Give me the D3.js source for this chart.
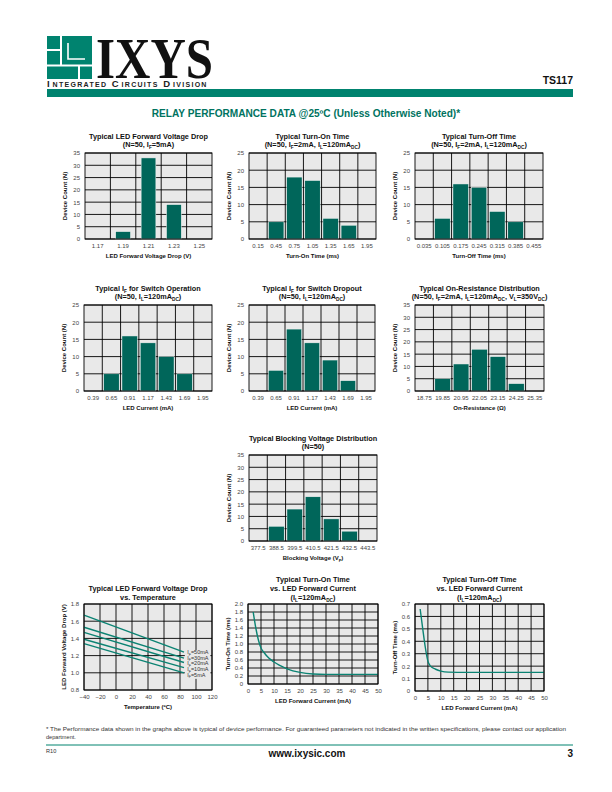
<!DOCTYPE html>
<html><head><meta charset="utf-8">
<script src="https://cdn.jsdelivr.net/npm/d3@7"></script>
<style>
html,body{margin:0;padding:0;background:#fff;}
svg{display:block;font-family:"Liberation Sans",Arial,Helvetica,sans-serif;}
</style></head><body>
<svg id="page" width="612" height="792"></svg>
<script>
// ---------- data ----------
const fwdCats = ["1.17","1.19","1.21","1.23","1.25"];
const fwdCounts = [0,3,33,14,0];
const tonCats = ["0.15","0.45","0.75","1.05","1.35","1.65","1.95"];
const tonCounts = [0,5,18,17,6,4,0];
const toffCats = ["0.035","0.105","0.175","0.245","0.315","0.385","0.455"];
const toffCounts = [0,6,16,15,8,5,0];
const ifCats = ["0.39","0.65","0.91","1.17","1.43","1.69","1.95"];
const ifOpCounts = [0,5,16,14,10,5,0];
const ifDropCounts = [0,6,18,14,9,3,0];
const ronCats = ["18.75","19.85","20.95","22.05","23.15","24.25","25.35"];
const ronCounts = [0,5,11,17,14,3,0];
const bvCats = ["377.5","388.5","399.5","410.5","421.5","432.5","443.5"];
const bvCounts = [0,6,13,18,9,4,0];

const tempC = [-40, 85];
const vfSeriesNames = ["50mA","30mA","20mA","10mA","5mA"];
const vf50 = [1.67, 1.24];
const vf30 = [1.53, 1.17];
const vf20 = [1.47, 1.12];
const vf10 = [1.39, 1.06];
const vf5  = [1.34, 1.00];

const tonIf = [2, 3, 4, 5, 6, 8, 10, 12, 15, 20, 25, 30, 40, 50];
const tonMs = [1.8, 1.4, 1.1, 0.9, 0.8, 0.65, 0.55, 0.47, 0.38, 0.29, 0.25, 0.24, 0.24, 0.24];
const toffIf = [2, 3, 4, 5, 6, 8, 10, 13, 20, 30, 50];
const toffMs = [0.66, 0.5, 0.35, 0.24, 0.2, 0.175, 0.16, 0.152, 0.15, 0.15, 0.15];

// ---------- styling ----------
const TEAL = "#00836f", BAR = "#00665a", LINE = "#0b8373", BG = "#e9e9e9", TICK = "#444";
const svg = d3.select("#page");

function rich(parent, x, y, segs, o = {}) {
  const fs = o.size || 7;
  const t = parent.append("text").attr("x", x).attr("y", y)
    .attr("text-anchor", o.anchor || "middle")
    .attr("font-size", fs).attr("font-weight", o.weight || "bold")
    .attr("fill", o.fill || "#111");
  if (o.transform) t.attr("transform", o.transform);
  let shifted = false;
  segs.forEach(s => {
    const isSub = typeof s !== "string";
    const ts = t.append("tspan").text(isSub ? s.sub : s);
    if (isSub) {
      ts.attr("font-size", fs * 0.65);
      if (!shifted) { ts.attr("dy", fs * 0.3); shifted = true; }
    } else if (shifted) { ts.attr("dy", -fs * 0.3); shifted = false; }
  });
  return t;
}

function styleAxis(g) {
  g.select(".domain").remove();
  g.selectAll("text").attr("font-size", 6).attr("fill", TICK)
    .attr("font-family", "Liberation Sans, Arial, sans-serif");
}

function frame(g, x0, x1, y0, y1) {
  g.append("rect").attr("x", x0).attr("y", y0).attr("width", x1 - x0).attr("height", y1 - y0)
    .attr("fill", "none").attr("stroke", "#000").attr("stroke-width", 0.9);
}

const TS = 7.3;

function histogram(c) {
  const g = svg.append("g");
  const x = d3.scaleBand().domain(c.cats).range([c.x0, c.x1]).padding(0);
  const y = d3.scaleLinear().domain([0, c.ymax]).range([c.y1, c.y0]);
  g.append("rect").attr("x", c.x0).attr("y", c.y0).attr("width", c.x1 - c.x0)
    .attr("height", c.y1 - c.y0).attr("fill", BG);
  const yt = d3.range(0, c.ymax + 1, 5);
  g.selectAll("line.h").data(yt).join("line")
    .attr("x1", c.x0).attr("x2", c.x1).attr("y1", d => y(d)).attr("y2", d => y(d))
    .attr("stroke", "#000").attr("stroke-width", 0.9);
  g.selectAll("line.v").data(c.cats.slice(1)).join("line")
    .attr("x1", d => x(d)).attr("x2", d => x(d)).attr("y1", c.y0).attr("y2", c.y1)
    .attr("stroke", "#000").attr("stroke-width", 0.9);
  const bw = x.bandwidth() * c.barRatio;
  g.selectAll("rect.bar").data(c.cats.map((k, i) => ({k, v: c.counts[i]})).filter(d => d.v > 0)).join("rect")
    .attr("x", d => x(d.k) + (x.bandwidth() - bw) / 2).attr("width", bw)
    .attr("y", d => y(d.v)).attr("height", d => y(0) - y(d.v))
    .attr("fill", BAR).attr("stroke", "#f4f4f4").attr("stroke-width", 0.5);
  frame(g, c.x0, c.x1, c.y0, c.y1);
  g.append("g").attr("transform", `translate(${c.x0},0)`)
    .call(d3.axisLeft(y).tickValues(yt).tickSize(0).tickPadding(5).tickFormat(d3.format("d")))
    .call(styleAxis);
  g.append("g").attr("transform", `translate(0,${c.y1})`)
    .call(d3.axisBottom(x).tickSize(0).tickPadding(5))
    .call(styleAxis);
  const cx = (c.x0 + c.x1) / 2;
  rich(g, cx, c.y0 - 14.5, c.t1, {size: TS});
  rich(g, cx, c.y0 - 6, c.t2, {size: TS});
  rich(g, cx, c.y1 + 19, c.xt, {size: 6});
  const cy = (c.y0 + c.y1) / 2, lx = c.x0 - 18;
  rich(g, lx, cy, ["Device Count (N)"], {size: 6, transform: `rotate(-90,${lx},${cy})`});
}

const row1 = {y0: 153, y1: 239};
histogram({cats: fwdCats, counts: fwdCounts, x0: 85, x1: 212, ...row1, ymax: 35, barRatio: 0.58,
  t1: ["Typical LED Forward Voltage Drop"], t2: ["(N=50, I", {sub: "F"}, "=5mA)"],
  xt: ["LED Forward Voltage Drop (V)"]});
histogram({cats: tonCats, counts: tonCounts, x0: 249, x1: 376, ...row1, ymax: 25, barRatio: 0.85,
  t1: ["Typical Turn-On Time"], t2: ["(N=50, I", {sub: "F"}, "=2mA, I", {sub: "L"}, "=120mA", {sub: "DC"}, ")"],
  xt: ["Turn-On Time (ms)"]});
histogram({cats: toffCats, counts: toffCounts, x0: 415, x1: 543, ...row1, ymax: 25, barRatio: 0.85,
  t1: ["Typical Turn-Off Time"], t2: ["(N=50, I", {sub: "F"}, "=2mA, I", {sub: "L"}, "=120mA", {sub: "DC"}, ")"],
  xt: ["Turn-Off Time (ms)"]});

const row2 = {y0: 305, y1: 391};
histogram({cats: ifCats, counts: ifOpCounts, x0: 84, x1: 212, ...row2, ymax: 25, barRatio: 0.85,
  t1: ["Typical I", {sub: "F"}, " for Switch Operation"], t2: ["(N=50, I", {sub: "L"}, "=120mA", {sub: "DC"}, ")"],
  xt: ["LED Current (mA)"]});
histogram({cats: ifCats, counts: ifDropCounts, x0: 249, x1: 375, ...row2, ymax: 25, barRatio: 0.85,
  t1: ["Typical I", {sub: "F"}, " for Switch Dropout"], t2: ["(N=50, I", {sub: "L"}, "=120mA", {sub: "DC"}, ")"],
  xt: ["LED Current (mA)"]});
histogram({cats: ronCats, counts: ronCounts, x0: 415, x1: 544, ...row2, ymax: 35, barRatio: 0.85,
  t1: ["Typical On-Resistance Distribution"],
  t2: ["(N=50, I", {sub: "F"}, "=2mA, I", {sub: "L"}, "=120mA", {sub: "DC"}, ", V", {sub: "L"}, "=350V", {sub: "DC"}, ")"],
  xt: ["On-Resistance (\u03A9)"]});

histogram({cats: bvCats, counts: bvCounts, x0: 249, x1: 377, y0: 455, y1: 541, ymax: 35, barRatio: 0.85,
  t1: ["Typical Blocking Voltage Distribution"], t2: ["(N=50)"],
  xt: ["Blocking Voltage (V", {sub: "P"}, ")"]});

// ---------- line charts ----------
function lineChart(c) {
  const g = svg.append("g");
  const x = d3.scaleLinear().domain(c.xd).range([c.x0, c.x1]);
  const y = d3.scaleLinear().domain(c.yd).range([c.y1, c.y0]);
  g.append("rect").attr("x", c.x0).attr("y", c.y0).attr("width", c.x1 - c.x0)
    .attr("height", c.y1 - c.y0).attr("fill", BG);
  g.selectAll("line.h").data(c.yt).join("line")
    .attr("x1", c.x0).attr("x2", c.x1).attr("y1", d => y(d)).attr("y2", d => y(d))
    .attr("stroke", "#000").attr("stroke-width", 0.9);
  g.selectAll("line.v").data(c.xt).join("line")
    .attr("x1", d => x(d)).attr("x2", d => x(d)).attr("y1", c.y0).attr("y2", c.y1)
    .attr("stroke", "#000").attr("stroke-width", 0.9);
  if (c.legend) c.legend(g, x, y);
  c.series.forEach(s => {
    g.append("path").datum(s.xs.map((v, i) => [v, s.ys[i]]))
      .attr("d", d3.line().x(d => x(d[0])).y(d => y(d[1])).curve(c.curve || d3.curveLinear))
      .attr("fill", "none").attr("stroke", LINE).attr("stroke-width", 1.4);
  });
  frame(g, c.x0, c.x1, c.y0, c.y1);
  g.append("g").attr("transform", `translate(${c.x0},0)`)
    .call(d3.axisLeft(y).tickValues(c.yt).tickSize(0).tickPadding(5).tickFormat(c.yf))
    .call(styleAxis);
  g.append("g").attr("transform", `translate(0,${c.y1})`)
    .call(d3.axisBottom(x).tickValues(c.xt).tickSize(0).tickPadding(5).tickFormat(d3.format("d")))
    .call(styleAxis);
  const cx = (c.x0 + c.x1) / 2;
  c.titles.forEach((t, i) => rich(g, cx, c.ty[i], t, {size: TS}));
  rich(g, cx, c.y1 + c.xtOff, c.xtitle, {size: 6});
  const cy = (c.y0 + c.y1) / 2, lx = c.x0 - 18;
  rich(g, lx, cy, c.ytitle, {size: 6, transform: `rotate(-90,${lx},${cy})`});
}

const fmt1 = d => d === 0 ? "0" : d3.format(".1f")(d);

lineChart({x0: 84, x1: 212, y0: 604, y1: 690, xd: [-40, 120], yd: [0.8, 1.8],
  xt: d3.range(-40, 121, 20), yt: [0.8, 1.0, 1.2, 1.4, 1.6, 1.8], yf: d3.format(".1f"),
  series: [vf50, vf30, vf20, vf10, vf5].map(v => ({xs: tempC, ys: v})),
  titles: [["Typical LED Forward Voltage Drop"], ["vs. Temperature"]], ty: [590.5, 599.5],
  xtitle: ["Temperature (\u00BAC)"], xtOff: 18.5, ytitle: ["LED Forward Voltage Drop (V)"],
  legend: (g, x, y) => {
    g.append("rect").attr("x", x(86)).attr("y", y(1.265)).attr("width", x(118) - x(86))
      .attr("height", y(0.93) - y(1.265)).attr("fill", BG);
    vfSeriesNames.forEach((n, i) => {
      rich(g, x(89), y(1.22) + i * 5.7, ["I", {sub: "F"}, "=" + n],
        {size: 5.5, anchor: "start", weight: "normal", fill: "#333"});
    });
  }});

lineChart({x0: 248, x1: 378, y0: 604, y1: 684, xd: [0, 50], yd: [0, 2.0],
  xt: d3.range(0, 51, 5), yt: d3.range(0, 11).map(i => i * 0.2), yf: fmt1,
  series: [{xs: tonIf, ys: tonMs}], curve: d3.curveMonotoneX,
  titles: [["Typical Turn-On Time"], ["vs. LED Forward Current"], ["(I", {sub: "L"}, "=120mA", {sub: "DC"}, ")"]],
  ty: [581.5, 590.5, 599.5],
  xtitle: ["LED Forward Current (mA)"], xtOff: 18.5, ytitle: ["Turn-On Time (ms)"]});

lineChart({x0: 415, x1: 544, y0: 604, y1: 691, xd: [0, 50], yd: [0, 0.7],
  xt: d3.range(0, 51, 5), yt: d3.range(0, 8).map(i => i * 0.1), yf: fmt1,
  series: [{xs: toffIf, ys: toffMs}], curve: d3.curveMonotoneX,
  titles: [["Typical Turn-Off Time"], ["vs. LED Forward Current"], ["(I", {sub: "L"}, "=120mA", {sub: "DC"}, ")"]],
  ty: [581.5, 590.5, 599.5],
  xtitle: ["LED Forward Current (mA)"], xtOff: 18.5, ytitle: ["Turn-Off Time (ms)"]});

// ---------- header ----------
const hdr = svg.append("g");
const lg = hdr.append("g").attr("fill", TEAL);
lg.append("rect").attr("x", 47).attr("y", 36).attr("width", 45).attr("height", 43);
const lw = hdr.append("g").attr("stroke", "#fff").attr("fill", "none").attr("stroke-width", 2);
lw.append("line").attr("x1", 47).attr("x2", 92).attr("y1", 65.5).attr("y2", 65.5);
lw.append("line").attr("x1", 61).attr("x2", 61).attr("y1", 36).attr("y2", 65.5);
lw.append("line").attr("x1", 47).attr("x2", 61).attr("y1", 50).attr("y2", 50);
lw.append("line").attr("x1", 79).attr("x2", 79).attr("y1", 65.5).attr("y2", 79);
lw.append("path").attr("d", "M68,43 L68,59 L85,59").attr("stroke-width", 1.6);
hdr.append("text").attr("x", 96).attr("y", 78).attr("font-family", "Liberation Serif, Times New Roman, serif")
  .attr("font-weight", "bold").attr("font-size", 58).attr("fill", "#111")
  .attr("textLength", 117).attr("lengthAdjust", "spacingAndGlyphs").text("IXYS");
// small-caps line: each piece is its own text, placed after the previous one
let icdX = 47;
[["I", 9.5, 1.6], ["NTEGRATED", 7, 4.5], ["C", 9.5, 1.6], ["IRCUITS", 7, 4.5], ["D", 9.5, 1.6], ["IVISION", 7, 0]]
  .forEach(([t, s, gap]) => {
    const el = hdr.append("text").attr("x", icdX).attr("y", 87).attr("font-weight", "bold")
      .attr("font-size", s).attr("fill", "#222").attr("letter-spacing", 1.3).text(t);
    icdX += el.node().getComputedTextLength() + gap;
  });
hdr.append("text").attr("x", 573).attr("y", 84).attr("text-anchor", "end").attr("font-weight", "bold")
  .attr("font-size", 10.5).attr("fill", "#111").text("TS117");
hdr.append("rect").attr("x", 47).attr("y", 89).attr("width", 526).attr("height", 8).attr("fill", TEAL);
hdr.append("text").attr("x", 306).attr("y", 116.5).attr("text-anchor", "middle").attr("font-weight", "bold")
  .attr("font-size", 10.1).attr("fill", "#00735f")
  .text("RELAY PERFORMANCE DATA @25\u00BAC (Unless Otherwise Noted)*");

// ---------- footer ----------
const ft = svg.append("g");
ft.append("text").attr("x", 46).attr("y", 731).attr("font-size", 5.6).attr("fill", "#333")
  .attr("textLength", 520).attr("lengthAdjust", "spacingAndGlyphs")
  .text("* The Performance data shown in the graphs above is typical of device performance.  For guaranteed parameters not indicated in the written specifications, please contact our application");
ft.append("text").attr("x", 46).attr("y", 739).attr("font-size", 5.6).attr("fill", "#333").text("department.");
ft.append("line").attr("x1", 46).attr("x2", 573).attr("y1", 745).attr("y2", 745).attr("stroke", TEAL).attr("stroke-width", 1);
ft.append("text").attr("x", 46).attr("y", 753).attr("font-size", 5.6).attr("fill", "#333").text("R10");
ft.append("text").attr("x", 307).attr("y", 757).attr("text-anchor", "middle").attr("font-weight", "bold")
  .attr("font-size", 10).attr("fill", "#111").text("www.ixysic.com");
ft.append("text").attr("x", 573).attr("y", 757).attr("text-anchor", "end").attr("font-weight", "bold")
  .attr("font-size", 10).attr("fill", "#111").text("3");
</script>
</body></html>
